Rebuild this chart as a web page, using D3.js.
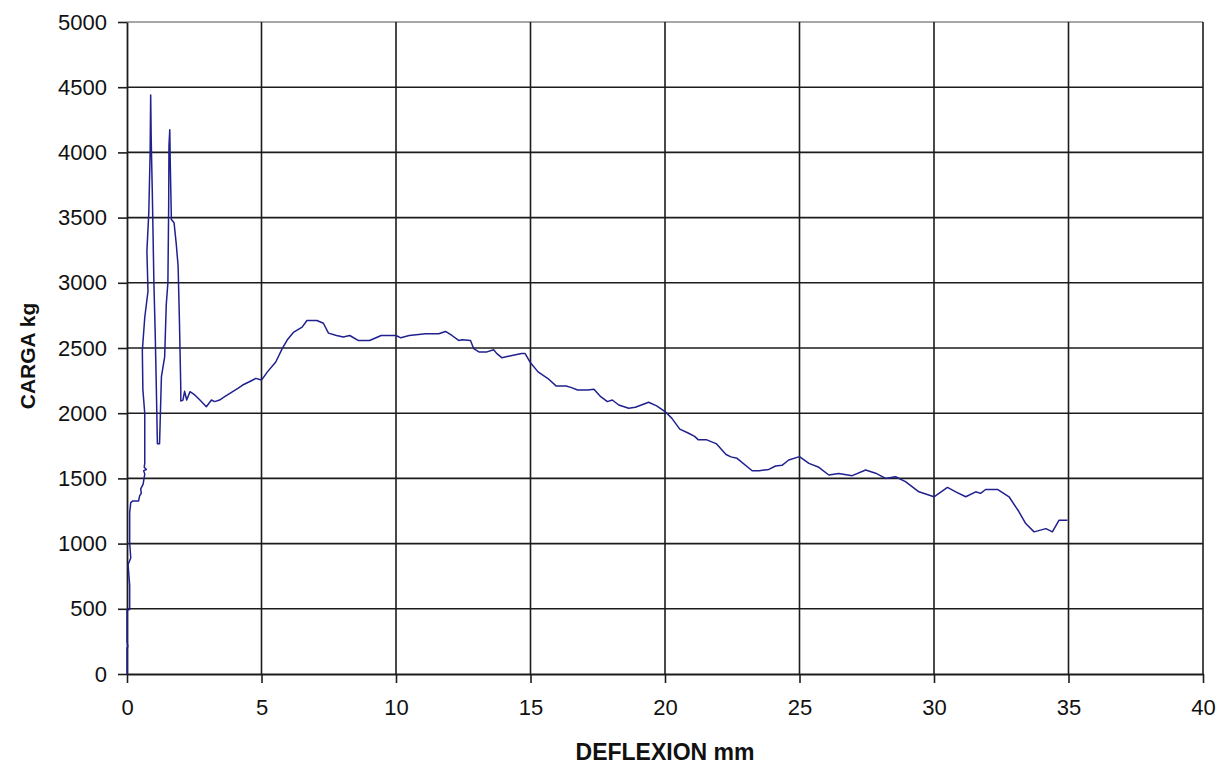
<!DOCTYPE html>
<html>
<head>
<meta charset="utf-8">
<script src="https://cdn.jsdelivr.net/npm/d3@7"></script>
<style>
  html, body { margin: 0; padding: 0; background: #fff; }
  svg { display: block; font-family: "Liberation Sans", Arial, sans-serif; }
</style>
</head>
<body>
<svg id="chart" width="1223" height="769"></svg>
<script>
const xTicks = [0, 5, 10, 15, 20, 25, 30, 35, 40];
const yTicks = [0, 500, 1000, 1500, 2000, 2500, 3000, 3500, 4000, 4500, 5000];
const xLabel = "DEFLEXION mm";
const yLabel = "CARGA kg";

const deflexion = [
  0, 0, 0.03, 0, 0, 0.1, 0.1, 0.04, 0.14, 0.1, 0.1, 0.14, 0.22, 0.43, 0.47, 0.53, 0.51, 0.6, 0.66, 0.62,
  0.72, 0.64, 0.66, 0.66, 0.59, 0.57, 0.66, 0.78, 0.74, 0.81, 0.86, 0.88, 0.9, 0.94, 1.0, 1.05, 1.09, 1.13,
  1.21, 1.28, 1.40, 1.46, 1.52, 1.55, 1.56, 1.59, 1.61, 1.65, 1.75, 1.83, 1.90, 1.95, 2.0, 2.0, 2.08, 2.14,
  2.22, 2.34, 2.52, 2.71, 2.95, 3.14, 3.26, 3.44, 3.63, 3.87, 4.12, 4.30, 4.55, 4.79, 5.0, 5.22, 5.53, 5.77,
  5.96, 6.20, 6.51, 6.69, 7.06, 7.30, 7.49, 7.79, 8.04, 8.28, 8.59, 9.02, 9.45, 10.0, 10.18, 10.49, 11.10,
  11.59, 11.84, 12.08, 12.33, 12.46, 12.77, 12.89, 13.08, 13.38, 13.63, 13.75, 13.93, 14.18, 14.67, 14.8,
  14.98, 15.28, 15.65, 15.96, 16.32, 16.5, 16.75, 17.12, 17.36, 17.61, 17.86, 18.04, 18.28, 18.65, 18.90,
  19.39, 19.69, 20.0, 20.25, 20.55, 20.86, 21.10, 21.23, 21.53, 21.90, 22.27, 22.45, 22.68, 23.24, 23.5,
  23.86, 24.11, 24.35, 24.60, 25.0, 25.35, 25.72, 26.09, 26.46, 26.96, 27.46, 27.83, 28.20, 28.57, 28.94,
  29.44, 30.0, 30.50, 30.81, 31.18, 31.55, 31.73, 31.92, 32.36, 32.79, 33.16, 33.41, 33.72, 34.16, 34.40,
  34.65, 34.96
];
const carga = [
  0, 200, 210, 250, 490, 495, 680, 840, 890, 1005, 1240, 1314, 1327, 1327, 1366, 1387, 1420, 1456, 1533, 1560,
  1568, 1585, 1616, 2000, 2181, 2482, 2734, 2935, 3243, 3536, 4000, 4441, 4100, 3700, 3000, 2600, 2200, 1766,
  1766, 2281, 2432, 2834, 3000, 3600, 4050, 4173, 3900, 3485, 3460, 3300, 3128, 2700, 2181, 2093, 2100, 2168,
  2101, 2165, 2140, 2101, 2050, 2101, 2089, 2101, 2127, 2158, 2190, 2216, 2241, 2267, 2254, 2317, 2393, 2495,
  2563, 2622, 2660, 2711, 2711, 2690, 2614, 2596, 2584, 2596, 2558, 2558, 2596, 2596, 2578, 2596, 2609,
  2609, 2627, 2596, 2558, 2563, 2558, 2495, 2470, 2470, 2487, 2457, 2426, 2436, 2457, 2457,
  2393, 2317, 2266, 2208, 2208, 2198, 2178, 2178, 2183, 2127, 2089, 2101, 2063, 2038, 2046,
  2084, 2056, 2013, 1962, 1878, 1848, 1822, 1797, 1797, 1767, 1683, 1665, 1654, 1559, 1559,
  1569, 1595, 1600, 1641, 1667, 1615, 1585, 1526, 1538, 1521, 1564, 1540, 1500, 1513, 1475,
  1397, 1359, 1431, 1397, 1359, 1397, 1385, 1415, 1415, 1359, 1244, 1154, 1090, 1115, 1090,
  1180, 1180
];

const mLeft = 127, mRight = 1203, mTop = 22, mBottom = 674;
const svg = d3.select("#chart");
const x = d3.scaleLinear().domain([0, 40]).range([mLeft, mRight]);
const y = d3.scaleLinear().domain([0, 5000]).range([mBottom, mTop]);

const grid = svg.append("g");
grid.selectAll("line.h").data(yTicks.filter(d => d > 0)).enter().append("line")
  .attr("x1", mLeft).attr("x2", mRight)
  .attr("y1", d => y(d)).attr("y2", d => y(d))
  .attr("stroke", d => d === 5000 ? "#8a8a8a" : "#1c1c1c").attr("stroke-width", 1.6);
grid.selectAll("line.v").data(xTicks.filter(d => d > 0)).enter().append("line")
  .attr("y1", mTop).attr("y2", mBottom)
  .attr("x1", d => x(d)).attr("x2", d => x(d))
  .attr("stroke", "#1c1c1c").attr("stroke-width", 1.6);

const fmt = d3.format("d");
const yAxis = svg.append("g").attr("transform", `translate(${mLeft},0)`)
  .call(d3.axisLeft(y).tickValues(yTicks).tickFormat(fmt).tickSize(9).tickPadding(11).tickSizeOuter(0));
const xAxis = svg.append("g").attr("transform", `translate(0,${mBottom})`)
  .call(d3.axisBottom(x).tickValues(xTicks).tickFormat(fmt).tickSize(9).tickPadding(16).tickSizeOuter(0));
[yAxis, xAxis].forEach(a => {
  a.select(".domain").attr("stroke", "#1c1c1c").attr("stroke-width", 1.8);
  a.selectAll(".tick line").attr("stroke", "#1c1c1c").attr("stroke-width", 1.6);
  a.selectAll(".tick text").attr("fill", "#111").style("font-size", "22px")
    .style("font-family", "'Liberation Sans', Arial, sans-serif");
});

const pts = deflexion.map((d, i) => [d, carga[i]]);
svg.append("path").datum(pts)
  .attr("fill", "none").attr("stroke", "#20208f").attr("stroke-width", 1.5)
  .attr("stroke-linejoin", "round")
  .attr("d", d3.line().x(d => x(d[0])).y(d => y(d[1])));

svg.append("text").attr("x", (mLeft + mRight) / 2).attr("y", 760)
  .attr("text-anchor", "middle").attr("font-weight", "bold").style("font-size", "23px")
  .attr("fill", "#111").text(xLabel);
svg.append("text").attr("transform", `translate(35,${(mTop + mBottom) / 2 + 8}) rotate(-90)`)
  .attr("text-anchor", "middle").attr("font-weight", "bold").style("font-size", "21px")
  .attr("fill", "#111").text(yLabel);
</script>
</body>
</html>
